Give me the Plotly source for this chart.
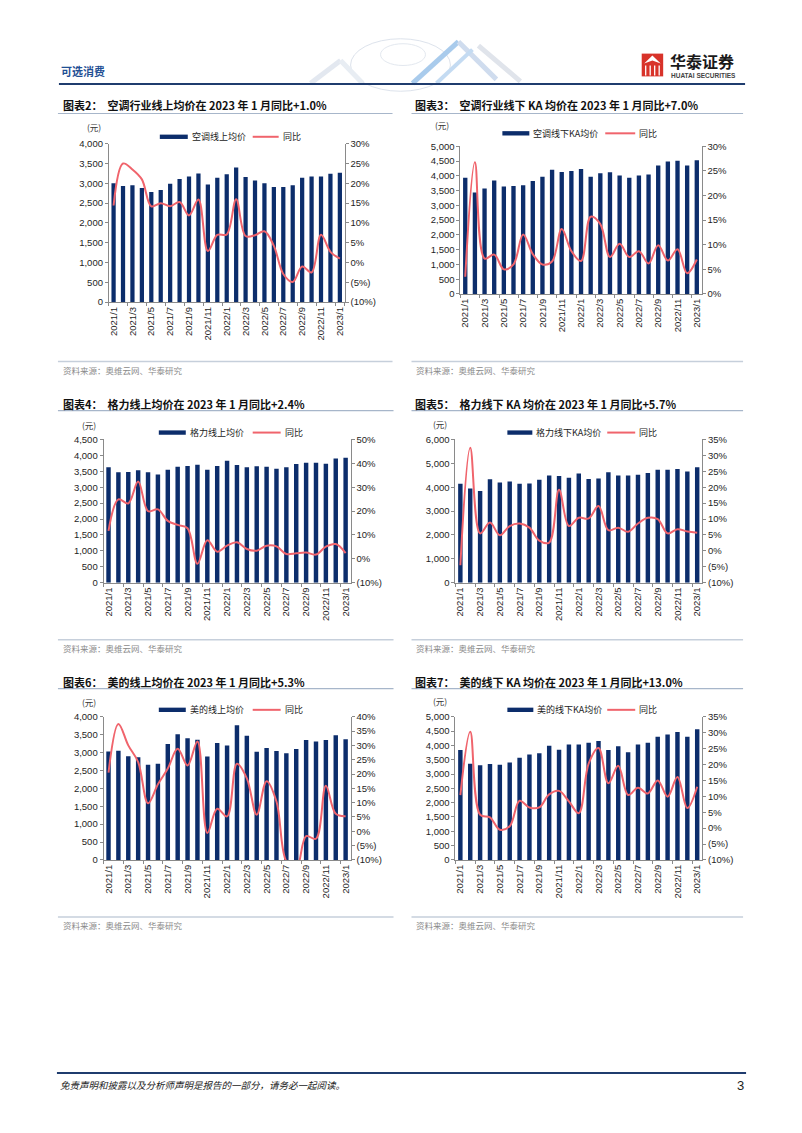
import plotly.graph_objects as go

# page is drawn in reference pixel coordinates; the browser body margin (8px) is compensated
OFF = 8
FW, FH = 802 - OFF, 1133 - OFF

months = ["2021/1", "2021/2", "2021/3", "2021/4", "2021/5", "2021/6", "2021/7",
          "2021/8", "2021/9", "2021/10", "2021/11", "2021/12", "2022/1", "2022/2",
          "2022/3", "2022/4", "2022/5", "2022/6", "2022/7", "2022/8", "2022/9",
          "2022/10", "2022/11", "2022/12", "2023/1"]
tick_months = ["2021/1", "2021/3", "2021/5", "2021/7", "2021/9", "2021/11", "2022/1",
               "2022/3", "2022/5", "2022/7", "2022/9", "2022/11", "2023/1"]

# 图表2 空调线上均价 (元) / 同比 (%)
ac_online_price = [3000, 2930, 2950, 2880, 2780, 2830, 2990, 3110, 3170, 3250, 2970, 3140, 3230,
                   3400, 3160, 3070, 3000, 2910, 2910, 2950, 3140, 3170, 3170, 3240, 3270]
ac_online_yoy = [14.4, 25.0, 23.5, 21.0, 14.2, 15.0, 14.2, 15.3, 11.9, 15.9, 2.9, 7.0, 7.1,
                 16.0, 6.7, 6.9, 7.9, 4.2, -2.9, -4.9, -1.0, -2.5, 7.0, 2.7, 1.0]
# 图表3 空调线下KA均价
ac_ka_price = [3940, 3440, 3570, 3840, 3640, 3660, 3680, 3830, 3970, 4210, 4130, 4170, 4230,
               3970, 4090, 4120, 4010, 3940, 4010, 4050, 4350, 4490, 4510, 4350, 4530]
ac_ka_yoy = [3.5, 26.8, 7.2, 8.0, 5.0, 6.0, 12.1, 8.1, 6.0, 6.6, 13.2, 8.7, 6.7,
             15.7, 14.2, 7.5, 10.2, 7.5, 8.7, 6.2, 9.9, 6.8, 9.1, 4.2, 7.0]
# 图表4 格力线上均价
gree_online_price = [3630, 3470, 3480, 3530, 3470, 3400, 3550, 3640, 3670, 3710, 3550, 3670, 3830,
                     3700, 3630, 3660, 3640, 3580, 3630, 3730, 3770, 3770, 3740, 3900, 3930]
gree_online_yoy = [11.7, 24.9, 23.2, 32.4, 20.0, 20.7, 15.9, 14.2, 12.8, -2.1, 7.8, 3.0, 5.5,
                   6.9, 4.1, 3.4, 5.5, 5.2, 2.0, 2.3, 2.6, 1.8, 5.1, 6.2, 2.4]
# 图表5 格力线下KA均价
gree_ka_price = [4150, 3950, 3840, 4330, 4200, 4240, 4150, 4160, 4310, 4490, 4470, 4400, 4580,
                 4350, 4370, 4630, 4490, 4490, 4520, 4600, 4730, 4730, 4760, 4660, 4840]
gree_ka_yoy = [-4.5, 32.4, 5.5, 8.9, 4.9, 7.8, 8.6, 7.3, 3.2, 2.6, 19.2, 7.8, 10.4,
               10.2, 14.1, 6.5, 7.3, 6.0, 8.6, 10.4, 10.0, 5.5, 6.8, 6.1, 5.7]
# 图表6 美的线上均价
midea_online_price = [3030, 3050, 2900, 2870, 2660, 2690, 3240, 3510, 3400, 3360, 2890, 3270, 3200,
                      3760, 3470, 3020, 3130, 3040, 2980, 3100, 3350, 3310, 3350, 3480, 3370]
midea_online_yoy = [20.5, 37.5, 30.0, 24.2, 9.8, 16.4, 21.9, 28.8, 23.0, 31.4, -0.6, 7.9, 5.2,
                    23.6, 18.5, 5.8, 17.5, 10.4, -10.5, -13.0, -1.7, -2.6, 15.9, 6.1, 5.3]
# 图表7 美的线下KA均价
midea_ka_price = [3840, 3360, 3310, 3350, 3320, 3400, 3570, 3680, 3730, 3990, 3850, 4030, 4030,
                  4090, 4150, 3840, 3970, 3760, 4030, 4090, 4300, 4380, 4470, 4300, 4560]
midea_ka_yoy = [10.4, 30.3, 4.2, 3.4, -0.5, 0.6, 8.6, 6.5, 6.5, 10.6, 11.7, 8.4, 4.7,
                20.3, 25.2, 14.1, 19.6, 10.4, 12.7, 10.9, 15.0, 9.9, 16.1, 6.3, 13.0]

titles = ["图表2：  空调行业线上均价在 2023 年 1 月同比+1.0%",
          "图表3：  空调行业线下 KA 均价在 2023 年 1 月同比+7.0%",
          "图表4：  格力线上均价在 2023 年 1 月同比+2.4%",
          "图表5：  格力线下 KA 均价在 2023 年 1 月同比+5.7%",
          "图表6：  美的线上均价在 2023 年 1 月同比+5.3%",
          "图表7：  美的线下 KA 均价在 2023 年 1 月同比+13.0%"]
bar_names = ["空调线上均价", "空调线下KA均价", "格力线上均价", "格力线下KA均价", "美的线上均价", "美的线下KA均价"]
line_name = "同比"
source_text = "资料来源：奥维云网、华泰研究"

BAR = "#0c2d6b"
RED = "#f0646c"
AXC = "#8a8a8a"
TXT = "#1e1e1e"
NUM = "Arial, 'Liberation Sans', sans-serif"
CJK = "'Noto Sans CJK SC', 'Noto Sans', sans-serif"


def px(x):
    return (x - OFF) / FW


def py(y):
    return 1 - (y - OFF) / FH


def pct(v):
    return f"({abs(v)}%)" if v < 0 else f"{v}%"


charts = [
    dict(price=ac_online_price, yoy=ac_online_yoy, plot=(108, 344, 139, 299),
         lmax=4000, ldt=500, r=(-10, 30, 5),
         title=(60, 100), uline=(57, 392, 108.5), src=(359, 368),
         leg=(159, 187, 252, 278, 132), yuan=(93, 122)),
    dict(price=ac_ka_price, yoy=ac_ka_yoy, plot=(460, 701.5, 141.7, 290.7),
         lmax=5000, ldt=500, r=(0, 30, 5),
         title=(413, 100), uline=(411, 743, 108.5), src=(359, 368),
         leg=(502, 529, 605, 635, 128.5), yuan=(442, 120)),
    dict(price=gree_online_price, yoy=gree_online_yoy, plot=(102.7, 350, 437.7, 582.3),
         lmax=4500, ldt=500, r=(-10, 50, 10),
         title=(60, 402), uline=(57, 393, 408.5), src=(640, 648),
         leg=(158, 185, 252, 280, 430.7), yuan=(88, 423)),
    dict(price=gree_ka_price, yoy=gree_ka_yoy, plot=(455, 702, 437.7, 582.3),
         lmax=6000, ldt=1000, r=(-10, 35, 5),
         title=(413, 402), uline=(411, 743, 408.5), src=(640, 648),
         leg=(507, 532, 607, 635, 430.7), yuan=(440, 422)),
    dict(price=midea_online_price, yoy=midea_online_yoy, plot=(102.7, 350, 717.7, 862.3),
         lmax=4000, ldt=500, r=(-10, 40, 5),
         title=(60, 683), uline=(57, 393, 689.3), src=(920, 928),
         leg=(158, 185, 252, 280, 710.7), yuan=(88, 703)),
    dict(price=midea_ka_price, yoy=midea_ka_yoy, plot=(455, 702, 717.7, 862.3),
         lmax=5000, ldt=500, r=(-10, 35, 5),
         title=(413, 683), uline=(411, 743, 689.3), src=(920, 928),
         leg=(507, 533, 607, 635, 710.7), yuan=(440, 702)),
]

fig = go.Figure()
layout = {}
shapes = []
annotations = []

for k, c in enumerate(charts):
    xi = k + 1
    yl = 2 * k + 1
    yr = 2 * k + 2
    xname = "x" if xi == 1 else f"x{xi}"
    ylname = "y" if yl == 1 else f"y{yl}"
    yrname = f"y{yr}"
    x0, x1, ytop, ybot = c["plot"]

    fig.add_trace(go.Bar(x=months, y=c["price"], xaxis=xname, yaxis=ylname,
                         marker=dict(color=BAR, line=dict(width=0)), width=0.45,
                         showlegend=False, name=bar_names[k]))
    fig.add_trace(go.Scatter(x=months, y=c["yoy"], xaxis=xname, yaxis=yrname, mode="lines",
                             line=dict(color=RED, width=2, shape="spline", smoothing=1.0),
                             showlegend=False, name=line_name))

    layout["xaxis" if xi == 1 else f"xaxis{xi}"] = dict(
        domain=[px(x0), px(x1)], anchor=ylname, type="category",
        categoryorder="array", categoryarray=months,
        tickmode="array", tickvals=tick_months, ticktext=tick_months,
        tickangle=-90, tickfont=dict(family=NUM, size=9.5, color=TXT),
        showline=True, linecolor=AXC, linewidth=1, ticks="outside", ticklen=3,
        tickcolor=AXC, tickson="boundaries", showgrid=False, zeroline=False,
        range=[-0.5, len(months) - 0.5], fixedrange=True)
    lvals = list(range(0, c["lmax"] + 1, c["ldt"]))
    layout["yaxis" if yl == 1 else f"yaxis{yl}"] = dict(
        domain=[py(ybot), py(ytop)], anchor=xname, range=[0, c["lmax"]],
        tickmode="array", tickvals=lvals, ticktext=[f"{v:,}" for v in lvals],
        tickfont=dict(family=NUM, size=9.5, color=TXT),
        showline=True, linecolor=AXC, linewidth=1, ticks="outside", ticklen=3,
        tickcolor=AXC, showgrid=False, zeroline=False, fixedrange=True)
    rlo, rhi, rdt = c["r"]
    rvals = list(range(rlo, rhi + 1, rdt))
    layout[f"yaxis{yr}"] = dict(
        overlaying=ylname, side="right", anchor=xname, range=[rlo, rhi],
        tickmode="array", tickvals=rvals, ticktext=[pct(v) for v in rvals],
        tickfont=dict(family=NUM, size=9.5, color=TXT),
        showline=True, linecolor=AXC, linewidth=1, ticks="outside", ticklen=3,
        tickcolor=AXC, showgrid=False, zeroline=False, fixedrange=True)

    # title + underline
    tx, ty = c["title"]
    annotations.append(dict(x=px(tx), y=py(ty), xref="paper", yref="paper", xanchor="left",
                            yanchor="middle", showarrow=False, text=f"<b>{titles[k]}</b>",
                            font=dict(family=CJK, size=11, color="#111")))
    ux0, ux1, uy = c["uline"]
    shapes.append(dict(type="line", xref="paper", yref="paper", x0=px(ux0), x1=px(ux1),
                       y0=py(uy), y1=py(uy), line=dict(color="#a7b6ca", width=1.2)))
    # source
    sl, st = c["src"]
    shapes.append(dict(type="line", xref="paper", yref="paper", x0=px(ux0), x1=px(ux1),
                       y0=py(sl), y1=py(sl), line=dict(color="#c6cfdb", width=1.5)))
    annotations.append(dict(x=px(ux0 + 3), y=py(st), xref="paper", yref="paper", xanchor="left",
                            yanchor="middle", showarrow=False, text=source_text,
                            font=dict(family=CJK, size=8.5, color="#8a8a8a")))
    # unit
    yx, yy = c["yuan"]
    annotations.append(dict(x=px(yx), y=py(yy), xref="paper", yref="paper", xanchor="center",
                            yanchor="middle", showarrow=False, text="(元)",
                            font=dict(family=CJK, size=8.5, color="#333")))
    # legend
    bx0, bx1, lx0, lx1, ly = c["leg"]
    shapes.append(dict(type="rect", xref="paper", yref="paper", x0=px(bx0), x1=px(bx1),
                       y0=py(ly + 2.2), y1=py(ly - 2.2), fillcolor=BAR, line=dict(width=0)))
    shapes.append(dict(type="line", xref="paper", yref="paper", x0=px(lx0), x1=px(lx1),
                       y0=py(ly), y1=py(ly), line=dict(color=RED, width=2)))
    annotations.append(dict(x=px(bx1 + 2), y=py(ly), xref="paper", yref="paper", xanchor="left",
                            yanchor="middle", showarrow=False, text=bar_names[k],
                            font=dict(family=CJK, size=9, color="#222")))
    annotations.append(dict(x=px(lx1 + 2), y=py(ly), xref="paper", yref="paper", xanchor="left",
                            yanchor="middle", showarrow=False, text=line_name,
                            font=dict(family=CJK, size=9, color="#222")))

# header decoration (faint globe and ribbons)
shapes.append(dict(type="circle", xref="paper", yref="paper", x0=px(350), x1=px(450),
                   y0=py(86), y1=py(33), line=dict(color="#dde3ec", width=1)))
shapes.append(dict(type="circle", xref="paper", yref="paper", x0=px(380), x1=px(425),
                   y0=py(60), y1=py(38), line=dict(color="#e3e8ef", width=1)))
for (a, b, cc, d, col, wd) in [(310, 78, 340, 55, "#e3e8f0", 5), (340, 55, 362, 78, "#e8edf3", 5),
                               (412, 78, 458, 36, "#a9cbec", 5), (458, 36, 496, 74, "#cfdcee", 5),
                               (436, 78, 472, 44, "#c4dbf2", 4), (478, 40, 520, 76, "#e0e4eb", 5)]:
    shapes.append(dict(type="line", xref="paper", yref="paper", x0=px(a), y0=py(b), x1=px(cc),
                       y1=py(d), line=dict(color=col, width=wd)))
# header line
shapes.append(dict(type="line", xref="paper", yref="paper", x0=px(58), x1=px(745),
                   y0=py(78.8), y1=py(78.8), line=dict(color="#1f3c6e", width=2)))
# logo
shapes.append(dict(type="rect", xref="paper", yref="paper", x0=px(641.5), x1=px(663),
                   y0=py(71), y1=py(48), fillcolor="#d8332a", line=dict(width=0)))
for xx in [645.5, 650, 654.5, 659]:
    shapes.append(dict(type="line", xref="paper", yref="paper", x0=px(xx), x1=px(xx),
                       y0=py(70), y1=py(60), line=dict(color="white", width=1.3)))
shapes.append(dict(type="path", xref="paper", yref="paper",
                   path=f"M {px(644)} {py(58)} L {px(652.2)} {py(50)} L {px(660.5)} {py(58)} L {px(652.2)} {py(55)} Z",
                   fillcolor="white", line=dict(width=0)))
annotations.append(dict(x=px(669), y=py(55), xref="paper", yref="paper", xanchor="left",
                        yanchor="middle", showarrow=False, text="<b>华泰证券</b>", borderpad=0,
                        font=dict(family=CJK, size=16, color="#1a1a1a")))
annotations.append(dict(x=px(670), y=py(70.5), xref="paper", yref="paper", xanchor="left",
                        yanchor="middle", showarrow=False, text="<b>HUATAI SECURITIES</b>", borderpad=0,
                        font=dict(family=NUM, size=6.5, color="#444")))
annotations.append(dict(x=px(58), y=py(66), xref="paper", yref="paper", xanchor="left",
                        yanchor="middle", showarrow=False, text="<b>可选消费</b>",
                        font=dict(family=CJK, size=11, color="#1f4f94")))
# footer
shapes.append(dict(type="line", xref="paper", yref="paper", x0=px(56), x1=px(746),
                   y0=py(1077.5), y1=py(1077.5), line=dict(color="#1f3c6e", width=2)))
annotations.append(dict(x=px(57), y=py(1090), xref="paper", yref="paper", xanchor="left",
                        yanchor="middle", showarrow=False,
                        text="<i>免责声明和披露以及分析师声明是报告的一部分，请务必一起阅读。</i>",
                        font=dict(family=CJK, size=9.5, color="#222")))
annotations.append(dict(x=px(746), y=py(1090), xref="paper", yref="paper", xanchor="right",
                        yanchor="middle", showarrow=False, text="3",
                        font=dict(family=NUM, size=13, color="#222")))

fig.update_layout(width=FW, height=FH, margin=dict(l=0, r=0, t=0, b=0),
                  paper_bgcolor="white", plot_bgcolor="rgba(0,0,0,0)",
                  shapes=shapes, annotations=annotations, bargap=0.5, showlegend=False,
                  **layout)

fig.write_html("out.html")
